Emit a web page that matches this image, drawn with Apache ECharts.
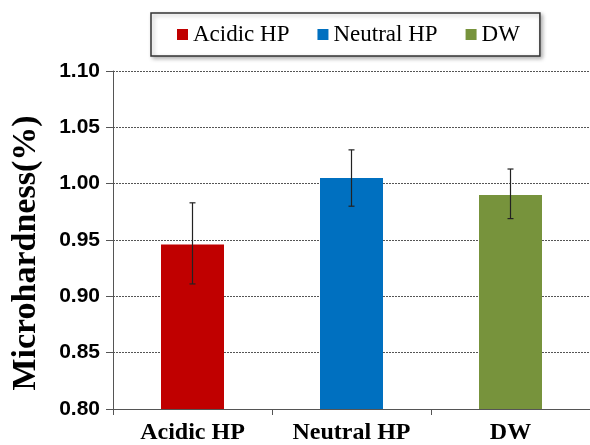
<!DOCTYPE html>
<html><head><meta charset="utf-8">
<script src="https://cdn.jsdelivr.net/npm/echarts@6/dist/echarts.min.js"></script>
<style>html,body{margin:0;padding:0;background:#fff}#c{width:590px;height:445px}</style>
</head><body><div id="c"></div>
<script>
const categories = ['Acidic HP', 'Neutral HP', 'DW'];
const seriesNames = ['Acidic HP', 'Neutral HP', 'DW'];
const means = [0.946, 1.005, 0.990];
const errLow = [0.911, 0.980, 0.969];
const errHigh = [0.983, 1.030, 1.013];
const colors = ['#C00000', '#0070C0', '#77933C'];
const yTicks = [0.80, 0.85, 0.90, 0.95, 1.00, 1.05, 1.10];
const yTitle = 'Microhardness(%)';

const chart = echarts.init(document.getElementById('c'), null, {renderer: 'canvas'});
const barSeries = seriesNames.map((n, i) => ({
  name: n, type: 'bar', barWidth: 63, barGap: '-100%',
  itemStyle: {color: colors[i]},
  data: categories.map((c, j) => j === i ? means[j] : '-')
}));
const errData = categories.map((c, j) => [j, errLow[j], errHigh[j]]);
chart.setOption({
  animation: false,
  legend: {
    data: seriesNames.map((n, i) => ({name: n, itemStyle: {color: colors[i]}})),
    top: 13, left: 151,
    padding: [10, 20, 10, 26],
    icon: 'rect', itemWidth: 11, itemHeight: 11, itemGap: 28,
    borderColor: '#333', borderWidth: 1.5,
    shadowColor: 'rgba(0,0,0,0.3)', shadowBlur: 4, shadowOffsetX: 2, shadowOffsetY: 2,
    backgroundColor: '#fff',
    textStyle: {fontFamily: 'Liberation Serif', fontSize: 23, color: '#000'}
  },
  graphic: [{
    type: 'text', x: 26, y: 253, rotation: Math.PI / 2,
    style: {text: yTitle, fontFamily: 'Liberation Serif', fontWeight: 'bold', fontSize: 34,
      fill: '#000', align: 'center', verticalAlign: 'middle'}
  }],
  grid: {left: 113, right: 0, top: 71, bottom: 35},
  xAxis: {
    type: 'category', data: categories,
    axisLine: {lineStyle: {color: '#555', width: 1}},
    axisTick: {show: true, length: 6, lineStyle: {color: '#555'}},
    axisLabel: {fontFamily: 'Liberation Serif', fontWeight: 'bold', fontSize: 24, color: '#000', margin: 12}
  },
  yAxis: {
    type: 'value', min: 0.8, max: 1.1, interval: 0.05,
    axisLine: {show: true, lineStyle: {color: '#555', width: 1}},
    axisTick: {show: true, length: 7, lineStyle: {color: '#555'}},
    axisLabel: {fontFamily: 'Liberation Sans', fontWeight: 'bold', fontSize: 21, color: '#000', margin: 13,
      formatter: v => { const t = yTicks.find(x => Math.abs(x - v) < 1e-6); return (t !== undefined ? t : v).toFixed(2); }},
    splitLine: {show: true, lineStyle: {color: '#555', type: [2, 1], width: 1}}
  },
  series: barSeries.concat([{
    type: 'custom', name: 'err', silent: true, z: 10,
    data: errData,
    renderItem: (params, api) => {
      const x = api.value(0);
      const lo = api.coord([x, api.value(1)]);
      const hi = api.coord([x, api.value(2)]);
      const w = 3;
      const st = {stroke: '#222', lineWidth: 1.2};
      return {type: 'group', children: [
        {type: 'line', shape: {x1: lo[0], y1: lo[1], x2: hi[0], y2: hi[1]}, style: st},
        {type: 'line', shape: {x1: lo[0]-w, y1: lo[1], x2: lo[0]+w, y2: lo[1]}, style: st},
        {type: 'line', shape: {x1: hi[0]-w, y1: hi[1], x2: hi[0]+w, y2: hi[1]}, style: st}
      ]};
    }
  }])
});
</script></body></html>
